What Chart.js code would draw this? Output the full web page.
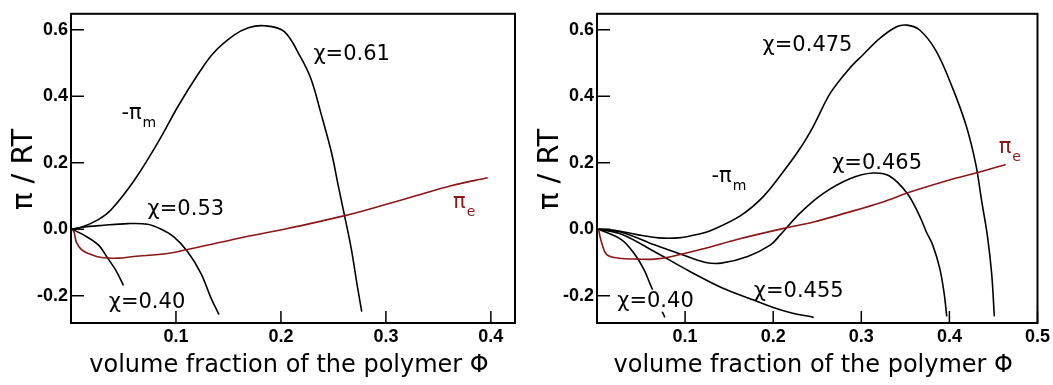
<!DOCTYPE html>
<html>
<head>
<meta charset="utf-8">
<script src="https://cdn.jsdelivr.net/npm/chart.js@4/dist/chart.umd.min.js"></script>
<style>
  html, body { margin: 0; padding: 0; background: #fff; }
  #wrap { position: relative; width: 1053px; height: 385px; }
  .panel { position: absolute; top: 0; height: 385px; }
  #leftBox { left: 0; width: 530px; }
  #rightBox { left: 530px; width: 523px; }
</style>
</head>
<body>
<div id="wrap">
  <div class="panel" id="leftBox"><canvas id="leftChart"></canvas></div>
  <div class="panel" id="rightBox"><canvas id="rightChart"></canvas></div>
</div>
<script>
// ---- left panel data (volume fraction, pi/RT) ----
var leftTicksX = [0.1, 0.2, 0.3, 0.4];
var rightTicksX = [0.1, 0.2, 0.3, 0.4, 0.5];
var ticksY = [-0.2, 0.0, 0.2, 0.4, 0.6];

var left061X = [0.001, 0.010, 0.026, 0.038, 0.060, 0.083, 0.102, 0.121, 0.136, 0.155, 0.169, 0.184, 0.203, 0.219, 0.229, 0.238, 0.248, 0.255, 0.261, 0.267, 0.273, 0.277];
var left061Y = [0, 0.006, 0.029, 0.058, 0.146, 0.262, 0.370, 0.466, 0.531, 0.583, 0.606, 0.612, 0.595, 0.516, 0.449, 0.350, 0.233, 0.125, 0.035, -0.058, -0.175, -0.248];

var left053X = [0.001, 0.010, 0.031, 0.054, 0.073, 0.086, 0.098, 0.111, 0.124, 0.133, 0.141];
var left053Y = [0, 0.006, 0.012, 0.017, 0.015, 0, -0.023, -0.067, -0.134, -0.204, -0.257];

var left040X = [0.001, 0.012, 0.026, 0.035, 0.043, 0.050];
var left040Y = [0, -0.017, -0.047, -0.087, -0.125, -0.169];

var leftPeX = [0.001, 0.003, 0.005, 0.010, 0.019, 0.029, 0.045, 0.060, 0.092, 0.124, 0.160, 0.203, 0.261, 0.298, 0.330, 0.362, 0.397];
var leftPeY = [0, -0.009, -0.038, -0.061, -0.076, -0.085, -0.087, -0.082, -0.073, -0.052, -0.027, 0, 0.041, 0.073, 0.102, 0.131, 0.155];

// ---- right panel data ----
var right0475X = [0.002, 0.020, 0.047, 0.070, 0.092, 0.115, 0.130, 0.163, 0.189, 0.212, 0.231, 0.246, 0.265, 0.287, 0.302, 0.321, 0.340, 0.352, 0.366, 0.385, 0.403, 0.419, 0.430, 0.437, 0.443, 0.448, 0.451];
var right0475Y = [0, -0.003, -0.017, -0.026, -0.026, -0.015, -0.003, 0.041, 0.099, 0.175, 0.245, 0.312, 0.410, 0.485, 0.525, 0.574, 0.609, 0.614, 0.600, 0.536, 0.429, 0.312, 0.195, 0.079, -0.017, -0.134, -0.262];

var right0465X = [0.002, 0.028, 0.065, 0.096, 0.122, 0.141, 0.171, 0.197, 0.208, 0.231, 0.257, 0.287, 0.313, 0.332, 0.352, 0.366, 0.374, 0.381, 0.389, 0.394, 0.397];
var right0465Y = [0, -0.009, -0.047, -0.076, -0.099, -0.102, -0.082, -0.047, -0.017, 0.050, 0.108, 0.152, 0.169, 0.160, 0.108, 0.041, -0.009, -0.047, -0.117, -0.192, -0.262];

var right0455X = [0.002, 0.028, 0.065, 0.104, 0.141, 0.178, 0.201, 0.220, 0.246];
var right0455Y = [0, -0.015, -0.067, -0.125, -0.175, -0.213, -0.236, -0.251, -0.265];

var right040X = [0.002, 0.028, 0.043, 0.054, 0.060, 0.068, 0.077];
var right040Y = [0, -0.032, -0.076, -0.125, -0.163, -0.213, -0.265];

var rightPeX = [0.002, 0.003, 0.006, 0.011, 0.025, 0.047, 0.065, 0.085, 0.122, 0.160, 0.216, 0.246, 0.284, 0.321, 0.358, 0.397, 0.426, 0.464];
var rightPeY = [0, -0.017, -0.047, -0.076, -0.087, -0.090, -0.090, -0.082, -0.058, -0.030, 0.005, 0.022, 0.050, 0.079, 0.114, 0.146, 0.166, 0.195];

// curve labels, placed in data units (left edge, baseline)
var leftLabels = [
  { text: "\u03c7=0.61", x: 0.231, y: 0.510 },
  { text: "-\u03c0", sub: "m", x: 0.048, y: 0.332 },
  { text: "\u03c7=0.53", x: 0.073, y: 0.044 },
  { text: "\u03c7=0.40", x: 0.036, y: -0.236, box: true },
  { text: "\u03c0", sub: "e", x: 0.364, y: 0.064, red: true }
];
var rightLabels = [
  { text: "\u03c7=0.475", x: 0.188, y: 0.536 },
  { text: "\u03c7=0.465", x: 0.267, y: 0.181 },
  { text: "-\u03c0", sub: "m", x: 0.130, y: 0.143 },
  { text: "\u03c0", sub: "e", x: 0.456, y: 0.230, red: true },
  { text: "\u03c7=0.455", x: 0.178, y: -0.204 },
  { text: "\u03c7=0.40", x: 0.023, y: -0.233, box: true }
];

var darkRed = "#8c1616";

function pts(xs, ys) {
  var out = [];
  for (var i = 0; i < xs.length; i++) out.push({ x: xs[i], y: ys[i] });
  return out;
}

function line(xs, ys, color) {
  return {
    data: pts(xs, ys),
    borderColor: color,
    borderWidth: 1.6,
    pointRadius: 0,
    fill: false,
    tension: 0.35
  };
}

// box, inward tick marks, titles and curve labels
var decor = {
  id: 'decor',
  afterDatasetsDraw: function(chart, args, opts) {
    var ctx = chart.ctx;
    var a = chart.chartArea;
    var xs = chart.scales.x, ys = chart.scales.y;
    ctx.save();

    // curve labels
    opts.labels.forEach(function(l) {
      var px = xs.getPixelForValue(l.x);
      var py = ys.getPixelForValue(l.y);
      ctx.font = '21px "DejaVu Sans"';
      ctx.textAlign = 'left';
      ctx.textBaseline = 'alphabetic';
      var w = ctx.measureText(l.text).width;
      if (l.box) {
        ctx.fillStyle = '#fff';
        ctx.fillRect(px - 1, py - 17, w + 2, 22);
      }
      ctx.fillStyle = l.red ? darkRed : '#000';
      ctx.fillText(l.text, px, py);
      if (l.sub) {
        ctx.font = '14px "DejaVu Sans"';
        ctx.fillText(l.sub, px + w + 1, py + 8);
      }
    });

    // frame
    ctx.strokeStyle = '#000';
    ctx.lineWidth = 2;
    ctx.strokeRect(a.left, a.top, a.right - a.left, a.bottom - a.top);

    // tick marks pointing inside
    ctx.lineWidth = 1.5;
    xs.ticks.forEach(function(t) {
      var p = xs.getPixelForValue(t.value);
      ctx.beginPath();
      ctx.moveTo(p, a.bottom);
      ctx.lineTo(p, a.bottom - 12);
      ctx.stroke();
    });
    ys.ticks.forEach(function(t) {
      var p = ys.getPixelForValue(t.value);
      ctx.beginPath();
      ctx.moveTo(a.left, p);
      ctx.lineTo(a.left + 13, p);
      ctx.stroke();
    });

    // axis titles
    ctx.fillStyle = '#000';
    ctx.font = '24px "DejaVu Sans"';
    ctx.textAlign = 'center';
    ctx.textBaseline = 'alphabetic';
    ctx.fillText('volume fraction of the polymer \u03a6', (a.left + a.right) / 2 - 4, 372);

    ctx.translate(a.left - 39, (a.top + a.bottom) / 2 + 1);
    ctx.rotate(-Math.PI / 2);
    ctx.font = '29px "DejaVu Sans"';
    ctx.fillText('\u03c0 / RT', 0, 0);
    ctx.restore();
  }
};

function makeChart(id, datasets, xMax, xTicks, yWidth, padRight, labels) {
  var ctx = document.getElementById(id).getContext('2d');
  return new Chart(ctx, {
    type: 'line',
    data: { datasets: datasets },
    plugins: [decor],
    options: {
      responsive: true,
      maintainAspectRatio: false,
      animation: false,
      layout: { padding: { top: 5, right: padRight, left: 0, bottom: 0 } },
      plugins: {
        legend: { display: false },
        tooltip: { enabled: false },
        decor: { labels: labels }
      },
      scales: {
        x: {
          type: 'linear',
          min: 0,
          max: xMax,
          afterFit: function(s) { s.height = 62; },
          afterBuildTicks: function(s) { s.ticks = xTicks.map(function(v) { return { value: v }; }); },
          grid: { display: false, drawTicks: false },
          border: { display: false },
          ticks: {
            padding: 3,
            color: '#000',
            font: { family: 'Liberation Sans', weight: 'bold', size: 18 },
            callback: function(v) { return v.toFixed(1); }
          }
        },
        y: {
          type: 'linear',
          min: -0.282,
          max: 0.648,
          afterFit: function(s) { s.width = yWidth; },
          afterBuildTicks: function(s) { s.ticks = ticksY.map(function(v) { return { value: v }; }); },
          grid: { display: false, drawTicks: false },
          border: { display: false },
          ticks: {
            padding: 3,
            color: '#000',
            font: { family: 'Liberation Sans', weight: 'bold', size: 18 },
            callback: function(v) { return v.toFixed(1); }
          }
        }
      }
    }
  });
}

makeChart('leftChart', [
  line(leftPeX, leftPeY, darkRed),
  line(left061X, left061Y, '#000'),
  line(left053X, left053Y, '#000'),
  line(left040X, left040Y, '#000')
], 0.423, leftTicksX, 71, 15, leftLabels);

makeChart('rightChart', [
  line(rightPeX, rightPeY, darkRed),
  line(right0475X, right0475Y, '#000'),
  line(right0465X, right0465Y, '#000'),
  line(right0455X, right0455Y, '#000'),
  line(right040X, right040Y, '#000')
], 0.5, rightTicksX, 67, 14, rightLabels);
</script>
</body>
</html>
